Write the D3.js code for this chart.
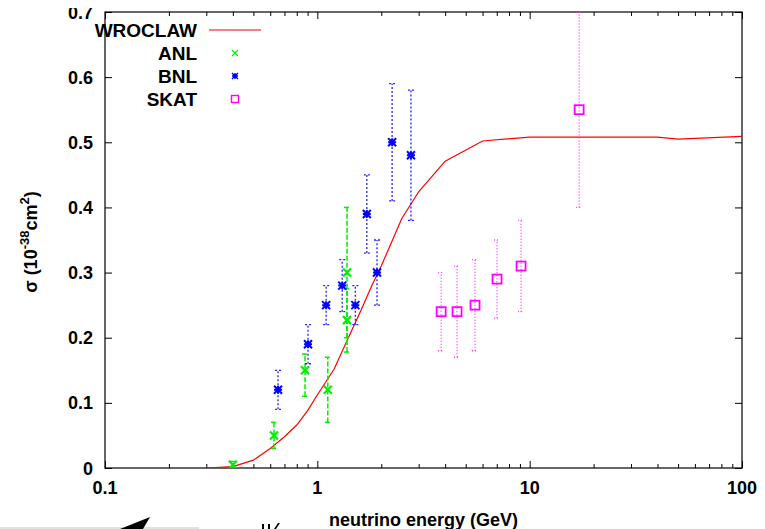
<!DOCTYPE html>
<html>
<head>
<meta charset="utf-8">
<script src="https://cdn.jsdelivr.net/npm/d3@7"></script>
<style>
  body { margin: 0; background: #fff; }
  svg { display: block; }
  text { font-family: "Liberation Sans", Arial, sans-serif; font-weight: bold; fill: #000; }
</style>
</head>
<body>
<svg id="chart" width="765" height="529"></svg>
<script>
// WROCLAW model curve
const wroclawE = [0.3, 0.4, 0.5, 0.6, 0.7, 0.8, 0.9, 1.0, 1.2, 1.4, 1.6, 1.8, 2.0, 2.5, 3.0, 4.0, 6.0, 10, 40, 50, 100];
const wroclawSigma = [0, 0.002, 0.012, 0.03, 0.048, 0.066, 0.088, 0.112, 0.152, 0.2, 0.241, 0.279, 0.31, 0.383, 0.424, 0.471, 0.502, 0.508, 0.508, 0.505, 0.509];

// ANL data
const anlE = [0.40, 0.625, 0.875, 1.12, 1.38, 1.38];
const anlSigma = [0.005, 0.05, 0.15, 0.12, 0.30, 0.227];
const anlLow = [0.0, 0.03, 0.11, 0.07, 0.20, 0.178];
const anlHigh = [0.01, 0.07, 0.175, 0.17, 0.40, 0.275];

// BNL data
const bnlE = [0.653, 0.904, 1.10, 1.31, 1.51, 1.71, 1.91, 2.25, 2.76];
const bnlSigma = [0.12, 0.19, 0.25, 0.28, 0.25, 0.39, 0.30, 0.50, 0.48];
const bnlLow = [0.09, 0.16, 0.22, 0.24, 0.22, 0.33, 0.25, 0.41, 0.38];
const bnlHigh = [0.15, 0.22, 0.28, 0.32, 0.28, 0.45, 0.35, 0.59, 0.58];

// SKAT data
const skatE = [3.83, 4.55, 5.53, 7.02, 9.11, 17.1];
const skatSigma = [0.24, 0.24, 0.25, 0.29, 0.31, 0.55];
const skatLow = [0.18, 0.17, 0.18, 0.23, 0.24, 0.40];
const skatHigh = [0.30, 0.31, 0.32, 0.35, 0.38, 0.70];

const yTicks = [0, 0.1, 0.2, 0.3, 0.4, 0.5, 0.6, 0.7];
const xTicks = [0.1, 1, 10, 100];
const legendLabels = ["WROCLAW", "ANL", "BNL", "SKAT"];

const svg = d3.select("#chart");
const plot = { left: 105, right: 742, top: 12, bottom: 468 };

const x = d3.scaleLog().domain([0.1, 100]).range([plot.left, plot.right]);
const y = d3.scaleLinear().domain([0, 0.7]).range([plot.bottom, plot.top]);

const xMinor = [];
[0.1, 1, 10].forEach(d => { for (let k = 2; k <= 9; k++) xMinor.push(d * k); });

svg.append("clipPath").attr("id", "clip")
  .append("rect")
  .attr("x", plot.left).attr("y", plot.top)
  .attr("width", plot.right - plot.left).attr("height", plot.bottom - plot.top);

//Axes with inward ticks on all four sides
const noLabel = () => "";
const axisStyle = g => {
  g.select(".domain").remove();
  g.selectAll("line").attr("stroke", "#000").attr("stroke-width", 1);
};
svg.append("g").attr("transform", `translate(0,${plot.bottom})`)
  .call(d3.axisBottom(x).tickValues(xTicks).tickSize(-7).tickFormat(noLabel)).call(axisStyle);
svg.append("g").attr("transform", `translate(0,${plot.bottom})`)
  .call(d3.axisBottom(x).tickValues(xMinor).tickSize(-4).tickFormat(noLabel)).call(axisStyle);
svg.append("g").attr("transform", `translate(0,${plot.top})`)
  .call(d3.axisTop(x).tickValues(xTicks).tickSize(-7).tickFormat(noLabel)).call(axisStyle);
svg.append("g").attr("transform", `translate(0,${plot.top})`)
  .call(d3.axisTop(x).tickValues(xMinor).tickSize(-4).tickFormat(noLabel)).call(axisStyle);
svg.append("g").attr("transform", `translate(${plot.left},0)`)
  .call(d3.axisLeft(y).tickValues(yTicks).tickSize(-7).tickFormat(noLabel)).call(axisStyle);
svg.append("g").attr("transform", `translate(${plot.right},0)`)
  .call(d3.axisRight(y).tickValues(yTicks).tickSize(-7).tickFormat(noLabel)).call(axisStyle);

svg.append("rect")
  .attr("x", plot.left).attr("y", plot.top)
  .attr("width", plot.right - plot.left).attr("height", plot.bottom - plot.top)
  .attr("fill", "none").attr("stroke", "#000").attr("stroke-width", 1.2);

// Tick labels
svg.append("g").selectAll("text").data(yTicks).enter().append("text")
  .attr("x", 93).attr("y", d => y(d) + 6.5)
  .attr("text-anchor", "end").attr("font-size", 18)
  .text(d => d === 0 ? "0" : d3.format(".1f")(d));
svg.append("g").selectAll("text").data(xTicks).enter().append("text")
  .attr("x", d => x(d)).attr("y", 494)
  .attr("text-anchor", "middle").attr("font-size", 18)
  .text(d => d);

// cropped top of the figure
svg.append("rect").attr("x", 0).attr("y", 0).attr("width", 100).attr("height", 8).attr("fill", "#fff");

// Axis titles
svg.append("text")
  .attr("x", (plot.left + plot.right) / 2).attr("y", 526)
  .attr("text-anchor", "middle").attr("font-size", 18)
  .text("neutrino energy (GeV)");
const yl = svg.append("text")
  .attr("transform", "translate(37,242) rotate(-90)")
  .attr("text-anchor", "middle").attr("font-size", 18);
yl.append("tspan").text("σ (10");
yl.append("tspan").attr("dy", -8).attr("font-size", 13).text("-38");
yl.append("tspan").attr("dy", 8).text("cm");
yl.append("tspan").attr("dy", -8).attr("font-size", 13).text("2");
yl.append("tspan").attr("dy", 8).text(")");

const body = svg.append("g").attr("clip-path", "url(#clip)");

// WROCLAW curve
const line = d3.line().x(d => x(d[0])).y(d => y(d[1]));
body.append("path")
  .datum(wroclawE.map((e, i) => [e, wroclawSigma[i]]))
  .attr("d", line).attr("fill", "none")
  .attr("stroke", "#ff0000").attr("stroke-width", 1.2);

// Error bars
const drawErrors = (E, low, high, color, dash, width) => {
  const g = body.append("g").attr("stroke", color).attr("stroke-width", width).attr("stroke-dasharray", dash);
  E.forEach((e, i) => {
    g.append("line").attr("x1", x(e)).attr("x2", x(e)).attr("y1", y(low[i])).attr("y2", y(high[i]));
    [low[i], high[i]].forEach(v => {
      g.append("line").attr("x1", x(e) - 3).attr("x2", x(e) + 3).attr("y1", y(v)).attr("y2", y(v));
    });
  });
};
drawErrors(anlE, anlLow, anlHigh, "#00ee00", "5,2", 1.5);
drawErrors(bnlE, bnlLow, bnlHigh, "#2222ff", "2,2", 1.3);
drawErrors(skatE, skatLow, skatHigh, "#ff33ff", "1,2", 1.3);

// Markers
const cross = (g, cx, cy, r) => g.append("path")
  .attr("d", `M${cx - r},${cy - r}L${cx + r},${cy + r}M${cx - r},${cy + r}L${cx + r},${cy - r}`);
const star = (g, cx, cy, r) => g.append("path")
  .attr("d", `M${cx - r},${cy - r}L${cx + r},${cy + r}M${cx - r},${cy + r}L${cx + r},${cy - r}M${cx},${cy - r}L${cx},${cy + r}M${cx - r},${cy}L${cx + r},${cy}`);
const square = (g, cx, cy, r) => g.append("rect")
  .attr("x", cx - r).attr("y", cy - r).attr("width", 2 * r).attr("height", 2 * r).attr("fill", "none");

const anlG = body.append("g").attr("stroke", "#00ee00").attr("stroke-width", 2.2);
anlE.forEach((e, i) => cross(anlG, x(e), y(anlSigma[i]), 4));
const bnlG = body.append("g").attr("stroke", "#0000ff").attr("stroke-width", 2);
bnlE.forEach((e, i) => star(bnlG, x(e), y(bnlSigma[i]), 4));
const skatG = body.append("g").attr("stroke", "#ff00ff").attr("stroke-width", 1.8);
skatE.forEach((e, i) => square(skatG, x(e), y(skatSigma[i]), 4.5));

// Legend
const legY = [30, 53, 76, 99];
svg.append("g").selectAll("text").data(legendLabels).enter().append("text")
  .attr("x", 197).attr("y", (d, i) => legY[i] + 7)
  .attr("text-anchor", "end").attr("font-size", 19)
  .text(d => d);
svg.append("line").attr("x1", 209).attr("x2", 261).attr("y1", legY[0]).attr("y2", legY[0])
  .attr("stroke", "#ff5050").attr("stroke-width", 1.5);
const legG = svg.append("g");
cross(legG.append("g").attr("stroke", "#00ee00").attr("stroke-width", 1.2), 235, legY[1], 3);
star(legG.append("g").attr("stroke", "#0000ff").attr("stroke-width", 1.4), 235, legY[2], 3);
square(legG.append("g").attr("stroke", "#ff00ff").attr("stroke-width", 1.4), 235, legY[3], 3.5);

// Fragments of the page below the figure
svg.append("rect").attr("x", 0).attr("y", 527).attr("width", 199).attr("height", 2).attr("fill", "#e2e2dc");
svg.append("path").attr("d", "M120,529L150,517L143,529Z").attr("fill", "#000");
svg.append("path").attr("d", "M262,524h2v5h-2ZM268,524h2v5h-2ZM274,529l4,-6h2l-4,6Z").attr("fill", "#000");
</script>
</body>
</html>
